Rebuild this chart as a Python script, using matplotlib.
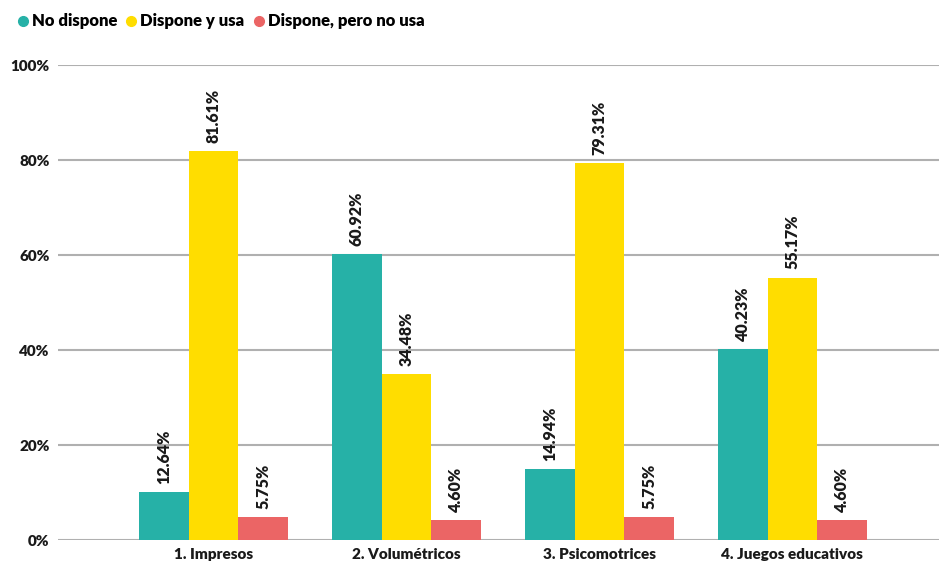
import numpy as np
import matplotlib.pyplot as plt

categories = ['1. Impresos', '2. Volumétricos', '3. Psicomotrices', '4. Juegos educativos']
series = ['No dispone', 'Dispone y usa', 'Dispone, pero no usa']
# bar heights as drawn in the chart
no_dispone = [10.1, 60.2, 14.9, 40.2]
dispone_usa = [81.9, 34.9, 79.4, 55.2]
dispone_no_usa = [4.8, 4.2, 4.8, 4.2]
# printed labels
no_dispone_lbl = ['12.64%', '60.92%', '14.94%', '40.23%']
dispone_usa_lbl = ['81.61%', '34.48%', '79.31%', '55.17%']
dispone_no_usa_lbl = ['5.75%', '4.60%', '5.75%', '4.60%']

colors = ['#26B1A7', '#FFDD00', '#EB6565']

plt.rcParams['font.family'] = ['Lato', 'DejaVu Sans']
W = 'heavy'

fig = plt.figure(figsize=(9.39, 5.65), dpi=100)
ax = fig.add_axes([58 / 939, 1 - 540 / 565, 1 - 58 / 939, 475 / 565])

x = np.arange(len(categories))
w = 0.257
data = [no_dispone, dispone_usa, dispone_no_usa]
labels = [no_dispone_lbl, dispone_usa_lbl, dispone_no_usa_lbl]
for i in range(3):
    xs = x + (i - 1) * w
    ax.bar(xs, data[i], width=w, color=colors[i], label=series[i], zorder=3)
    for a, b, t in zip(xs, data[i], labels[i]):
        ax.annotate(t, (a, b), xytext=(0, 6), textcoords='offset points',
                    rotation=90, ha='center', va='bottom',
                    fontsize=11.5, fontweight=W, color='#1a1a1a')

ax.set_xlim(-0.806, 3.76)
ax.set_ylim(0, 100)
ax.set_yticks([0, 20, 40, 60, 80, 100])
ax.set_yticklabels(['0%', '20%', '40%', '60%', '80%', '100%'])
ax.set_xticks(x)
ax.set_xticklabels(categories)
for lab in ax.get_xticklabels() + ax.get_yticklabels():
    lab.set_fontweight(W)
    lab.set_fontsize(11)
    lab.set_color('#1a1a1a')
ax.tick_params(axis='both', length=0)
ax.tick_params(axis='x', pad=6)
ax.tick_params(axis='y', pad=6)
ax.grid(axis='y', color='#b0b0b0', linewidth=1.5, zorder=0)
for s in ax.spines.values():
    s.set_visible(False)

handles = [plt.Line2D([], [], marker='o', linestyle='', markersize=7,
                      markerfacecolor=c, markeredgecolor=c) for c in colors]
leg = fig.legend(handles, series, loc='upper left', bbox_to_anchor=(0.0, 1.0),
                 ncol=3, frameon=False, handletextpad=0.0, columnspacing=0.3,
                 handlelength=1.1, prop={'weight': W, 'size': 12},
                 borderaxespad=0.4)

fig.savefig('out.png', dpi=100)
